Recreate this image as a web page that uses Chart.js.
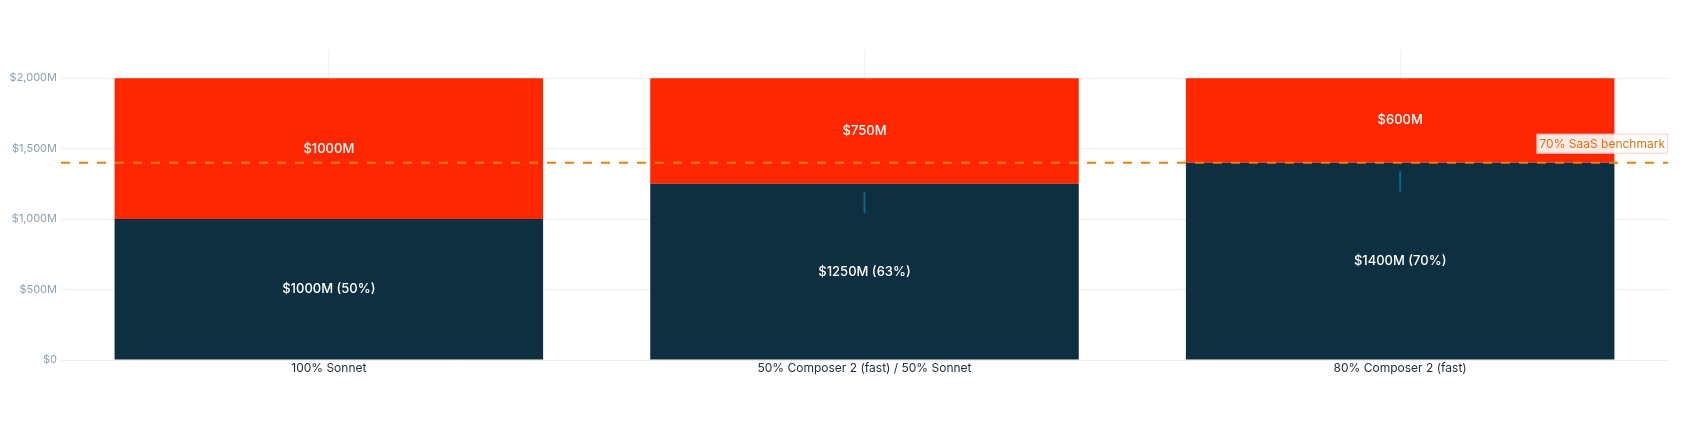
<!DOCTYPE html>
<html>
<head>
<meta charset="utf-8">
<script src="https://cdn.jsdelivr.net/npm/chart.js@4"></script>
<style>
    html, body { margin: 0; padding: 0; background: #ffffff; }
    #wrap { width: 1688px; height: 441px; }
</style>
</head>
<body>
<div id="wrap"><canvas id="chart"></canvas></div>
<script>
// Dados do gráfico
const categorias = ['100% Sonnet', '50% Composer 2 (fast) / 50% Sonnet', '80% Composer 2 (fast)'];
const valoresRetidos = [1000, 1250, 1400];   // segmento escuro (base)
const valoresPagos = [1000, 750, 600];       // segmento vermelho (topo)
const benchmark = 1400;
const benchmarkTexto = '70% SaaS benchmark';
const marcadorInicio = [null, 1045, 1195];
const marcadorFim = [null, 1195, 1340];
const ticksY = [0, 500, 1000, 1500, 2000];

const fonte = 'Inter, "Noto Sans", sans-serif';

function formatarDolar(v) {
    return v === 0 ? '$0' : '$' + v.toLocaleString('en-US') + 'M';
}

// Rótulos dentro das barras
const rotulosBarras = {
    id: 'rotulosBarras',
    afterDatasetsDraw(chart) {
        const ctx = chart.ctx;
        ctx.save();
        ctx.font = '500 13px ' + fonte;
        ctx.fillStyle = '#ffffff';
        ctx.textAlign = 'center';
        ctx.textBaseline = 'middle';
        chart.data.datasets.forEach((ds, di) => {
            const meta = chart.getDatasetMeta(di);
            meta.data.forEach((bar, i) => {
                let texto = '$' + ds.data[i] + 'M';
                if (di === 0) {
                    const pct = Math.round(valoresRetidos[i] / (valoresRetidos[i] + valoresPagos[i]) * 100);
                    texto += ' (' + pct + '%)';
                }
                ctx.fillText(texto, bar.x, (bar.y + bar.base) / 2);
            });
        });
        ctx.restore();
    }
};

// Pequenos marcadores verticais
const marcadores = {
    id: 'marcadores',
    afterDatasetsDraw(chart) {
        const ctx = chart.ctx;
        const x = chart.scales.x;
        const y = chart.scales.y;
        ctx.save();
        ctx.strokeStyle = '#10628a';
        ctx.lineWidth = 2;
        marcadorInicio.forEach((ini, i) => {
            if (ini === null) return;
            const px = x.getPixelForValue(i);
            ctx.beginPath();
            ctx.moveTo(px, y.getPixelForValue(ini));
            ctx.lineTo(px, y.getPixelForValue(marcadorFim[i]));
            ctx.stroke();
        });
        ctx.restore();
    }
};

// Linha tracejada do benchmark
const linhaBenchmark = {
    id: 'linhaBenchmark',
    afterDatasetsDraw(chart) {
        const ctx = chart.ctx;
        const area = chart.chartArea;
        const py = chart.scales.y.getPixelForValue(benchmark);
        ctx.save();
        ctx.strokeStyle = '#e5800c';
        ctx.lineWidth = 2;
        ctx.setLineDash([9, 9]);
        ctx.beginPath();
        ctx.moveTo(area.left, py);
        ctx.lineTo(area.right, py);
        ctx.stroke();
        ctx.setLineDash([]);

        ctx.font = '12px ' + fonte;
        const largura = ctx.measureText(benchmarkTexto).width + 6;
        const altura = 20;
        const bx = area.right - largura;
        const by = py - 9 - altura;
        ctx.fillStyle = 'rgba(255,255,255,0.9)';
        ctx.fillRect(bx, by, largura, altura);
        ctx.strokeStyle = 'rgba(255,120,100,0.35)';
        ctx.lineWidth = 1;
        ctx.strokeRect(bx + 0.5, by + 0.5, largura - 1, altura - 1);
        ctx.fillStyle = '#d9730d';
        ctx.textAlign = 'left';
        ctx.textBaseline = 'middle';
        ctx.fillText(benchmarkTexto, bx + 3, by + altura / 2 + 1);
        ctx.restore();
    }
};

const ctx = document.getElementById('chart').getContext('2d');
new Chart(ctx, {
    type: 'bar',
    data: {
        labels: categorias,
        datasets: [
            {
                label: 'Retido',
                data: valoresRetidos,
                backgroundColor: '#0e2f40',
                barPercentage: 0.8,
                categoryPercentage: 1.0
            },
            {
                label: 'Pago',
                data: valoresPagos,
                backgroundColor: '#ff2700',
                barPercentage: 0.8,
                categoryPercentage: 1.0
            }
        ]
    },
    options: {
        responsive: true,
        maintainAspectRatio: false,
        animation: false,
        layout: { padding: { top: 50, right: 20, left: 0, bottom: 0 } },
        plugins: {
            legend: { display: false },
            tooltip: { enabled: false }
        },
        scales: {
            x: {
                stacked: true,
                grid: { color: '#eef0f2', offset: false, drawTicks: false },
                border: { display: false },
                ticks: { color: '#1e2b37', font: { family: fonte, size: 12 }, padding: 1 },
                afterFit(scale) { scale.height = 81; }
            },
            y: {
                stacked: true,
                min: 0,
                max: 2200,
                grid: { color: '#eceef0', drawTicks: false },
                border: { display: false },
                afterBuildTicks(scale) { scale.ticks = ticksY.map(v => ({ value: v })); },
                ticks: {
                    color: '#8da2b5',
                    font: { family: fonte, size: 11 },
                    padding: 4,
                    callback: v => formatarDolar(v)
                },
                afterFit(scale) { scale.width = 61; }
            }
        }
    },
    plugins: [rotulosBarras, marcadores, linhaBenchmark]
});
</script>
</body>
</html>
